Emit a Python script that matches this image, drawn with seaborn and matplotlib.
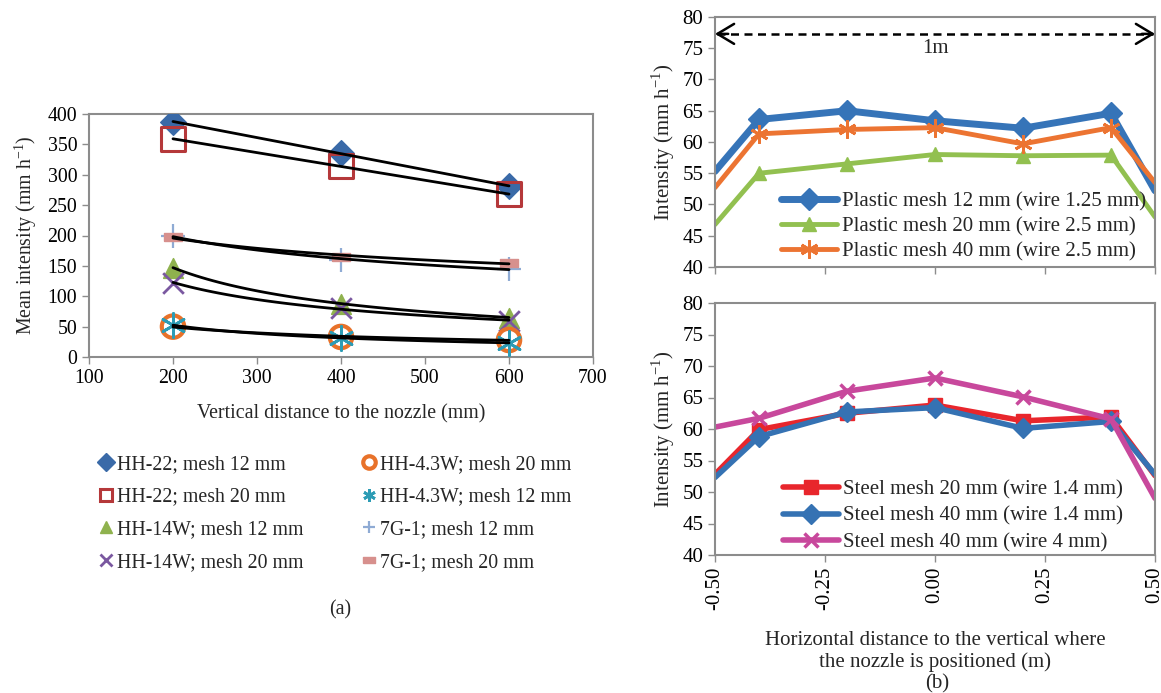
import numpy as np
import pandas as pd
import matplotlib
matplotlib.use("Agg")
import matplotlib.pyplot as plt
import seaborn as sns
from matplotlib.lines import Line2D

# ---------------- data ----------------
dist_mm = [200, 400, 600]
hh22_m12 = [387, 336, 281]
hh22_m20 = [359, 314, 268]
hh14w_m12 = [147, 88, 65]
hh14w_m20 = [122, 80, 60]
hh43w_m20 = [50, 33, 28]
hh43w_m12 = [52, 32, 23]
g71_m12 = [199, 160, 145]
g71_m20 = [197, 165, 155]

hpos = [-0.5, -0.4, -0.2, 0.0, 0.2, 0.4, 0.5]
plastic12 = [55.3, 63.6, 65.0, 63.4, 62.2, 64.6, 52.2]
plastic20 = [46.8, 55.0, 56.5, 58.0, 57.8, 57.9, 48.0]
plastic40 = [52.7, 61.3, 62.0, 62.3, 59.7, 62.3, 53.5]
steel20_14 = [52.8, 59.9, 62.5, 63.8, 61.3, 61.9, 52.6]
steel40_14 = [52.3, 58.8, 62.7, 63.4, 60.1, 61.2, 52.8]
steel40_4 = [60.3, 61.7, 66.0, 68.1, 65.1, 61.6, 49.0]

xticks_b = [-0.50, -0.25, 0.00, 0.25, 0.50]

# ---------------- style ----------------
sns.set_theme(style="ticks")
plt.rcParams['font.family'] = ['Liberation Serif', 'DejaVu Serif']
plt.rcParams['mathtext.fontset'] = 'custom'
plt.rcParams['mathtext.rm'] = 'Liberation Serif'
plt.rcParams['axes.edgecolor'] = '#8c8c8c'
plt.rcParams['xtick.color'] = '#8c8c8c'
plt.rcParams['ytick.color'] = '#8c8c8c'
plt.rcParams['xtick.labelcolor'] = 'black'
plt.rcParams['ytick.labelcolor'] = 'black'

FSA = 14.3
FSB = 15.0
fig = plt.figure(figsize=(11.61, 6.93), dpi=100)

# ---------------- panel (a) ----------------
axA = fig.add_axes([89/1161, 1-357/693, (593-89)/1161, (357-114)/693])

series_a = [
    ("HH-22; mesh 12 mm", hh22_m12, dict(marker='D', s=170, color='#3a6aa8', edgecolor='#3a6aa8'), 'lin'),
    ("HH-22; mesh 20 mm", hh22_m20, dict(marker='s', s=300, facecolor='none', edgecolor='#b5383a', linewidth=2.2), 'lin'),
    ("HH-14W; mesh 12 mm", hh14w_m12, dict(marker='^', s=200, color='#8fb24e', edgecolor='#8fb24e'), 'pow'),
    ("HH-14W; mesh 20 mm", hh14w_m20, dict(marker='x', s=220, color='#7a58a0', linewidth=2.0), 'pow'),
    ("HH-4.3W; mesh 20 mm", hh43w_m20, dict(marker='o', s=260, facecolor='none', edgecolor='#e8722a', linewidth=3.0), 'pow'),
    ("HH-4.3W; mesh 12 mm", hh43w_m12, dict(marker=(6, 2, 0), s=300, color='#2d9cb5', linewidth=2.0), 'pow'),
    ("7G-1; mesh 12 mm", g71_m12, dict(marker='+', s=300, color='#8fabd4', linewidth=1.6), 'pow'),
    ("7G-1; mesh 20 mm", g71_m20, dict(marker=[(-1, -0.5), (1, -0.5), (1, 0.5), (-1, 0.5), (-1, -0.5)], s=150, color='#d7908d', edgecolor='#d7908d'), 'pow'),
]

handles = []
for name, vals, kw, fit in series_a:
    df = pd.DataFrame({"x": dist_mm, "y": vals})
    sns.scatterplot(data=df, x="x", y="y", ax=axA, zorder=3, legend=False, **kw)
    xs = np.linspace(200, 600, 60)
    if fit == 'lin':
        p = np.polyfit(dist_mm, vals, 1)
        ys = np.polyval(p, xs)
    else:
        p = np.polyfit(np.log(dist_mm), np.log(vals), 1)
        ys = np.exp(np.polyval(p, np.log(xs)))
    sns.lineplot(x=xs, y=ys, ax=axA, color='black', linewidth=2.0, zorder=4, legend=False)
    mk = kw['marker']
    fc = kw.get('facecolor', kw.get('color'))
    ec = kw.get('edgecolor', kw.get('color'))
    fcol = 'none' if fc == 'none' else fc
    line_like = fc == 'none' or (isinstance(mk, str) and mk in ('x', '+')) or mk == (6, 2, 0)
    handles.append(Line2D([], [], linestyle='none', marker=mk, markersize=9,
                          markerfacecolor=fcol, markeredgecolor=ec,
                          markeredgewidth=kw.get('linewidth', 1.0) if line_like else 1.0,
                          label=name))

axA.set_xlim(100, 700)
axA.set_ylim(0, 400)
axA.set_xticks(range(100, 701, 100))
axA.set_yticks(range(0, 401, 50))
axA.tick_params(axis='both', labelsize=FSA, length=5, width=1)
axA.set_xlabel("Vertical distance to the nozzle (mm)", fontsize=FSA, labelpad=12)
axA.set_ylabel("Mean intensity (mm h$^{\\mathregular{-1}}$)", fontsize=FSA, labelpad=6)
for s in axA.spines.values():
    s.set_visible(True)
    s.set_linewidth(1.5)

leg_kw = dict(loc='upper left', frameon=False, fontsize=FSA, handlelength=0.8,
              handletextpad=0.15, labelspacing=0.69, borderpad=0.0)
fig.legend(handles=handles[:4], bbox_to_anchor=(88/1161, 1-445/693), **leg_kw)
fig.legend(handles=handles[4:], bbox_to_anchor=(351/1161, 1-445/693), **leg_kw)

fig.text(340/1161, 1-610/693, "(a)", ha='center', va='center', fontsize=FSA)

# ---------------- panel (b) top ----------------
axT = fig.add_axes([715/1161, 1-267/693, (1155-715)/1161, (267-17)/693])
series_t = [
    ("Plastic mesh 12 mm (wire 1.25 mm)", plastic12, '#3674b8', 'D', 11, 5.0),
    ("Plastic mesh 20 mm (wire 2.5 mm)", plastic20, '#92c050', '^', 10, 3.5),
    ("Plastic mesh 40 mm (wire 2.5 mm)", plastic40, '#ec7432', (6, 2, 0), 13, 3.5),
]
for name, vals, col, mk, ms, lw in series_t:
    df = pd.DataFrame({"x": hpos, "y": vals})
    sns.lineplot(data=df, x="x", y="y", ax=axT, color=col, linewidth=lw, marker=mk,
                 markersize=ms, markeredgecolor=col, markeredgewidth=2 if mk == (6, 2, 0) else 1,
                 markevery=[1, 2, 3, 4, 5], label=name)
axT.set_xlim(-0.5, 0.5)
axT.set_ylim(40, 80)
axT.set_xticks(xticks_b)
axT.set_xticklabels([])
axT.set_yticks(range(40, 81, 5))
axT.tick_params(axis='both', labelsize=FSB, length=5, width=1)
axT.set_xlabel("")
axT.set_ylabel("Intensity (mm h$^{\\mathregular{-1}}$)", fontsize=FSB, labelpad=4)
for s in axT.spines.values():
    s.set_visible(True)
    s.set_linewidth(1.5)

# 1 m dashed double arrow
axT.plot([-0.495, 0.495], [77.3, 77.3], color='black', lw=1.8,
         linestyle=(0, (3.2, 2.2)), clip_on=False)
for x0, x1 in [(-0.47, -0.5), (0.47, 0.5)]:
    axT.annotate("", xy=(x1, 77.3), xytext=(x0, 77.3),
                 arrowprops=dict(arrowstyle='->,head_length=1.0,head_width=0.6',
                                 color='black', lw=1.8, mutation_scale=12,
                                 shrinkA=0, shrinkB=0), annotation_clip=False)
axT.text(0.0, 75.0, "1m", ha='center', va='center', fontsize=FSB)

axT.legend(loc='upper left', bbox_to_anchor=(0.122, 0.35), frameon=False,
           fontsize=FSB, handlelength=2.7, handletextpad=0.2, labelspacing=0.25,
           borderpad=0.1)

# ---------------- panel (b) bottom ----------------
axB = fig.add_axes([715/1161, 1-555/693, (1155-715)/1161, (555-303)/693])
series_b = [
    ("Steel mesh 20 mm (wire 1.4 mm)", steel20_14, '#e8262c', 's', 10, 4.0),
    ("Steel mesh 40 mm (wire 1.4 mm)", steel40_14, '#3572b3', 'D', 10, 4.0),
    ("Steel mesh 40 mm (wire 4 mm)", steel40_4, '#c8489c', 'x', 10, 4.0),
]
for name, vals, col, mk, ms, lw in series_b:
    df = pd.DataFrame({"x": hpos, "y": vals})
    sns.lineplot(data=df, x="x", y="y", ax=axB, color=col, linewidth=lw, marker=mk,
                 markersize=ms, markeredgecolor=col, markeredgewidth=2.5 if mk == 'x' else 1,
                 markevery=[1, 2, 3, 4, 5], label=name)
axB.set_xlim(-0.5, 0.5)
axB.set_ylim(40, 80)
axB.set_xticks(xticks_b)
axB.set_xticklabels([f"{v:.2f}" for v in xticks_b], rotation=90)
axB.set_yticks(range(40, 81, 5))
axB.tick_params(axis='both', labelsize=FSB, length=5, width=1)
axB.set_xlabel("Horizontal distance to the vertical where\nthe nozzle is positioned (m)",
               fontsize=FSB, labelpad=15, linespacing=1.15)
axB.set_ylabel("Intensity (mm h$^{\\mathregular{-1}}$)", fontsize=FSB, labelpad=4)
for s in axB.spines.values():
    s.set_visible(True)
    s.set_linewidth(1.5)
axB.legend(loc='upper left', bbox_to_anchor=(0.125, 0.348), frameon=False,
           fontsize=FSB, handlelength=2.7, handletextpad=0.2, labelspacing=0.33,
           borderpad=0.1)

fig.text(937/1161, 1-684/693, "(b)", ha='center', va='center', fontsize=FSB)

fig.savefig("out.png", dpi=100)
